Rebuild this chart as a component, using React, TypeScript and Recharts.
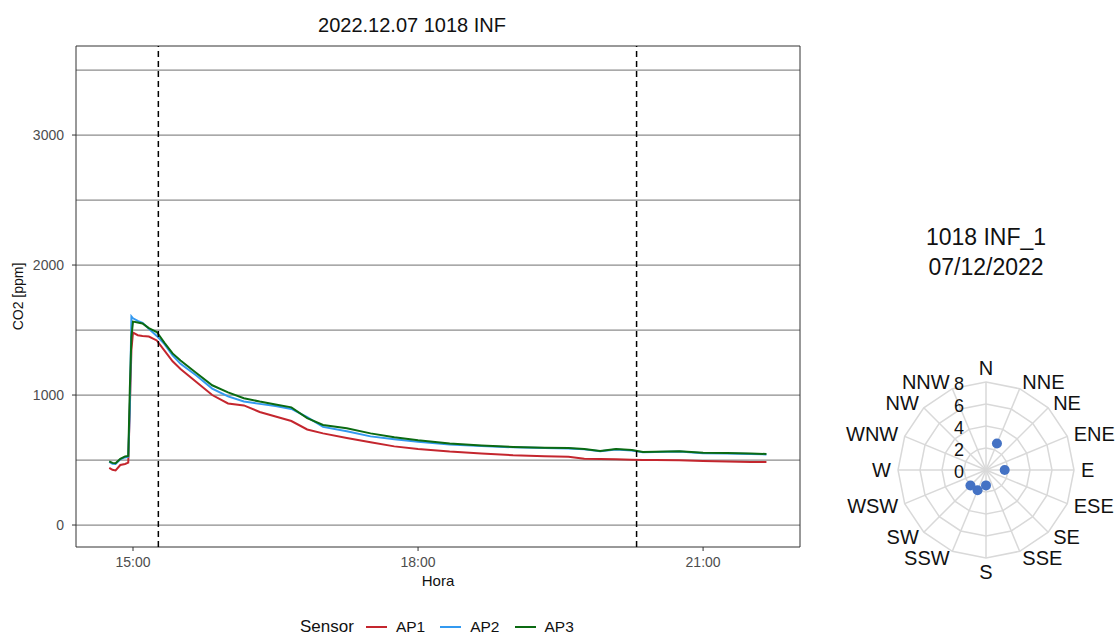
import {
  CartesianGrid,
  Line,
  LineChart,
  PolarAngleAxis,
  PolarGrid,
  PolarRadiusAxis,
  Radar,
  RadarChart,
  ReferenceArea,
  ReferenceLine,
  XAxis,
  YAxis,
} from 'recharts';

const FONT = '"Liberation Sans", Arial, Helvetica, sans-serif';

// CO2 series (ppm)
const times = [
  '14:45', '14:47', '14:49', '14:52', '14:55', '14:57', '14:58', '14:59', '15:00', '15:03',
  '15:06', '15:10', '15:15', '15:20', '15:25', '15:30', '15:40', '15:50', '16:00', '16:10',
  '16:20', '16:30', '16:40', '16:50', '17:00', '17:15', '17:30', '17:45', '18:00', '18:20',
  '18:40', '19:00', '19:20', '19:35', '19:45', '19:55', '20:05', '20:15', '20:22', '20:30',
  '20:45', '21:00', '21:15', '21:30', '21:40',
];
const ap1 = [
  440, 425, 420, 462, 470, 480, 900, 1350, 1480, 1460,
  1455, 1450, 1420, 1340, 1260, 1200, 1100, 1000, 935, 920,
  870, 835, 800, 735, 705, 670, 636, 605, 585, 565,
  551, 537, 530, 525, 510, 508, 506, 502, 500, 500,
  498, 493, 488, 485, 484,
];
const ap2 = [
  485, 472, 470, 505, 520, 525, 900, 1605, 1590, 1570,
  1555, 1510, 1455, 1390, 1305, 1240, 1150, 1050, 990, 950,
  932, 915, 893, 830, 755, 722, 682, 660, 640, 620,
  608, 598, 592, 589, 582, 567, 581, 574, 559, 561,
  565, 553, 551, 547, 543,
];
const ap3 = [
  490, 478, 475, 510, 528, 532, 1050, 1450, 1565, 1558,
  1550, 1515, 1485, 1400, 1320, 1265, 1170, 1075, 1020, 975,
  950, 928, 905, 823, 770, 745, 705, 675, 652, 628,
  612, 601, 595, 592, 585, 570, 585, 577, 562, 564,
  568, 556, 555, 551, 546,
];

const gridValues = [0, 500, 1000, 1500, 2000, 2500, 3000, 3500];
const yTicks = [0, 1000, 2000, 3000];
const xTicks = [15, 18, 21];
const eventTimes = ['15:16', '20:18'];
const xDomain: [number, number] = [14.4, 22.02];
const yDomain: [number, number] = [-169, 3685];

const sensors = [
  { key: 'ap1', name: 'AP1', color: '#c4262e' },
  { key: 'ap2', name: 'AP2', color: '#3399f0' },
  { key: 'ap3', name: 'AP3', color: '#0b6a12' },
];

// wind rose
const directions = ['N', 'NNE', 'NE', 'ENE', 'E', 'ESE', 'SE', 'SSE', 'S', 'SSW', 'SW', 'WSW', 'W', 'WNW', 'NW', 'NNW'];
const windSpeed = [null, 2.6, null, null, 1.7, null, null, null, 1.4, 2.0, 2.0, null, null, null, null, null];
const radiusTicks = [0, 2, 4, 6, 8];

const toHours = (s: string) => {
  const [h, m] = s.split(':').map(Number);
  return h + m / 60;
};

const co2Rows = times.map((t, i) => ({ t: toHours(t), ap1: ap1[i], ap2: ap2[i], ap3: ap3[i] }));
const windRows = directions.map((d, i) => ({ dir: d, speed: windSpeed[i] }));

const RCX = 145;
const RCY = 130;

function DirTick(props: any) {
  const { x, y, payload } = props;
  const dx = x - RCX;
  const dy = y - RCY;
  const len = Math.hypot(dx, dy) || 1;
  const ux = dx / len;
  const uy = dy / len;
  const px = RCX + ux * 95;
  const py = RCY + uy * 95;
  let anchor: 'start' | 'end' | 'middle' = 'middle';
  if (ux > 0.1) anchor = 'start';
  else if (ux < -0.1) anchor = 'end';
  let baseline = 'central';
  if (Math.abs(ux) <= 0.1) baseline = uy < 0 ? 'auto' : 'hanging';
  return (
    <text
      x={px}
      y={py}
      textAnchor={anchor}
      dominantBaseline={baseline}
      fill="#111"
      fontSize={20}
      fontFamily={FONT}
    >
      {payload.value}
    </text>
  );
}

function SpeedTick(props: any) {
  const { x, y, payload } = props;
  return (
    <text x={x - 22} y={y + 2} textAnchor="end" dominantBaseline="central" fill="#111" fontSize={18} fontFamily={FONT}>
      {payload.value}
    </text>
  );
}

function WindDot(props: any) {
  const { cx, cy, index } = props;
  const raw = props.payload?.payload ?? props.payload;
  if (raw?.speed == null || !Number.isFinite(cx) || !Number.isFinite(cy)) return <g key={`wd-${index}`} />;
  return <circle key={`wd-${index}`} cx={cx} cy={cy} r={5} fill="#4472c4" />;
}

export default function App() {
  return (
    <div style={{ position: 'absolute', left: 0, top: 0, width: 1118, height: 639, background: '#fff', fontFamily: FONT }}>
      <div
        style={{
          position: 'absolute',
          left: 0,
          top: 15,
          width: 824,
          textAlign: 'center',
          fontSize: 20,
          lineHeight: '20px',
          color: '#111',
        }}
      >
        2022.12.07 1018 INF
      </div>

      <div style={{ position: 'absolute', left: 0, top: 0 }}>
        <LineChart width={820} height={600} data={co2Rows} margin={{ top: 46, right: 20, bottom: 8, left: 0 }}>
          <CartesianGrid vertical={false} horizontalValues={gridValues} stroke="#8c8c8c" strokeWidth={1.3} />
          <XAxis
            type="number"
            dataKey="t"
            domain={xDomain}
            ticks={xTicks}
            allowDataOverflow
            tickFormatter={(h: number) => `${h}:00`}
            axisLine={false}
            tickLine={{ stroke: '#333' }}
            tickSize={4}
            tickMargin={6}
            height={45}
            tick={{ fill: '#4d4d4d', fontSize: 14, fontFamily: FONT }}
            label={{ value: 'Hora', position: 'insideBottom', offset: 6, fill: '#111', fontSize: 15, fontFamily: FONT }}
          />
          <YAxis
            type="number"
            domain={yDomain}
            ticks={yTicks}
            allowDataOverflow
            axisLine={false}
            tickLine={{ stroke: '#333' }}
            tickSize={4}
            tickMargin={8}
            width={76}
            tick={{ fill: '#4d4d4d', fontSize: 14, fontFamily: FONT }}
            label={{
              value: 'CO2 [ppm]',
              angle: -90,
              position: 'insideLeft',
              offset: 18,
              fill: '#111',
              fontSize: 14,
              fontFamily: FONT,
              style: { textAnchor: 'middle' },
            }}
          />
          {sensors.map((s) => (
            <Line
              key={s.key}
              type="linear"
              dataKey={s.key}
              name={s.name}
              stroke={s.color}
              strokeWidth={2}
              dot={false}
              isAnimationActive={false}
            />
          ))}
          {eventTimes.map((t) => (
            <ReferenceLine key={t} x={toHours(t)} stroke="#000" strokeWidth={1.5} strokeDasharray="6 4" />
          ))}
          <ReferenceArea
            x1={xDomain[0]}
            x2={xDomain[1]}
            y1={yDomain[0]}
            y2={yDomain[1]}
            fill="none"
            fillOpacity={0}
            stroke="#333"
            strokeWidth={1}
          />
        </LineChart>
      </div>

      <div
        style={{
          position: 'absolute',
          left: 300,
          top: 617,
          display: 'flex',
          alignItems: 'center',
          color: '#111',
          fontSize: 15.5,
        }}
      >
        <span style={{ fontSize: 17, marginRight: 12 }}>Sensor</span>
        {sensors.map((s) => (
          <span key={s.key} style={{ display: 'flex', alignItems: 'center', marginRight: 15 }}>
            <span style={{ display: 'inline-block', width: 21, height: 2, background: s.color, marginRight: 9 }} />
            <span>{s.name}</span>
          </span>
        ))}
      </div>

      <div
        style={{
          position: 'absolute',
          left: 836,
          top: 222,
          width: 300,
          textAlign: 'center',
          fontSize: 23,
          lineHeight: '30px',
          color: '#111',
        }}
      >
        <div>1018 INF_1</div>
        <div>07/12/2022</div>
      </div>

      <div style={{ position: 'absolute', left: 841, top: 340 }}>
        <RadarChart
          width={290}
          height={260}
          data={windRows}
          cx={RCX}
          cy={RCY}
          outerRadius={88}
          startAngle={90}
          endAngle={-270}
          margin={{ top: 0, right: 0, bottom: 0, left: 0 }}
        >
          <PolarGrid gridType="polygon" stroke="#d9d9d9" strokeWidth={1.5} />
          <PolarAngleAxis dataKey="dir" axisLine={false} tickLine={false} tick={<DirTick />} />
          <PolarRadiusAxis
            angle={90}
            domain={[0, 8]}
            ticks={radiusTicks as any}
            tickCount={5}
            axisLine={false}
            tick={<SpeedTick />}
          />
          <Radar
            dataKey="speed"
            stroke="none"
            fill="none"
            fillOpacity={0}
            dot={WindDot}
            isAnimationActive={false}
          />
        </RadarChart>
      </div>
    </div>
  );
}
